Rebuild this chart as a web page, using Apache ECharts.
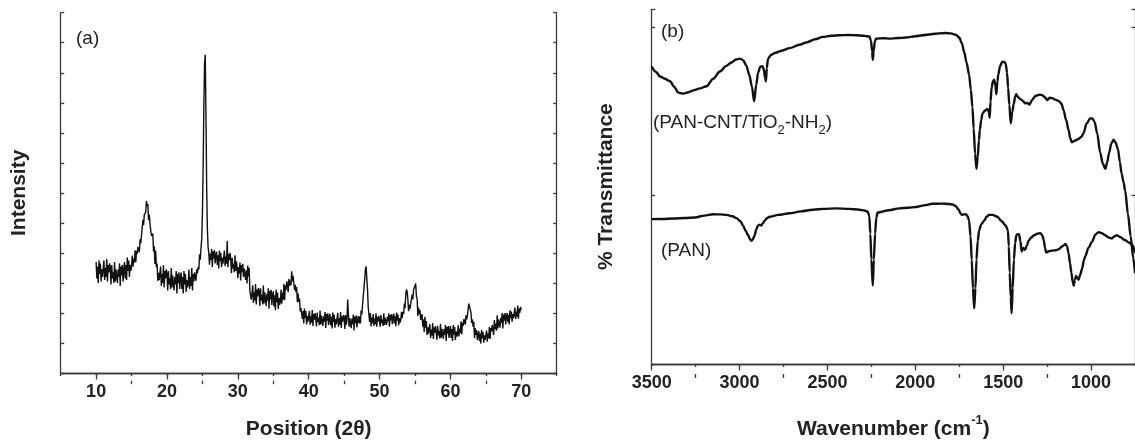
<!DOCTYPE html>
<html>
<head>
<meta charset="utf-8">
<script src="https://cdn.jsdelivr.net/npm/echarts@6/dist/echarts.min.js"></script>
<style>
  html, body { margin: 0; padding: 0; background: #fff; }
  #chart { width: 1135px; height: 445px; }
</style>
</head>
<body>
<div id="chart"></div>
<script>
// ---------- Panel (a): XRD pattern ----------
const xrdStart = 10;      // first 2θ sample
const xrdStep = 0.1;      // 2θ sampling step
const xrdIntensity = [
  3.70,3.15,3.55,3.00,3.75,3.30,3.65,3.05,3.45,3.20,   // 10
  3.25,3.75,3.10,3.50,3.20,3.80,3.05,3.60,3.35,3.65,   // 11
  3.50,2.95,3.60,3.15,3.35,3.00,3.70,3.05,3.45,3.20,   // 12
  3.00,3.45,3.20,3.65,2.90,3.55,3.25,3.60,3.05,3.40,   // 13
  3.70,3.15,3.60,3.10,3.85,3.40,3.75,3.20,3.60,3.40,   // 14
  3.56,3.91,3.54,3.81,3.68,4.09,3.69,4.07,3.97,4.20,   // 15
  4.20,4.02,4.45,4.32,4.58,4.55,5.10,4.92,5.28,5.30,   // 16
  5.35,5.73,5.55,5.63,5.10,5.28,4.97,5.00,4.57,4.60,   // 17
  4.64,4.05,4.22,3.63,4.08,3.52,3.65,3.07,3.34,3.09,   // 18
  3.05,3.55,2.90,3.30,3.00,3.60,2.85,3.40,3.15,3.45,   // 19
  3.30,2.75,3.40,2.95,3.15,2.80,3.50,2.85,3.25,3.00,   // 20
  2.75,3.20,2.95,3.40,2.65,3.30,3.00,3.35,2.80,3.15,   // 21
  3.35,2.80,3.20,2.65,3.40,2.95,3.30,2.70,3.10,2.85,   // 22
  2.95,3.45,2.80,3.20,2.90,3.50,2.75,3.30,3.05,3.35,   // 23
  3.30,3.07,3.45,3.32,3.53,3.45,3.95,3.77,4.18,4.45,   // 24
  5.30,6.80,8.80,10.30,10.60,8.60,6.20,4.80,4.20,4.00, // 25
  3.61,3.97,3.77,4.13,3.53,4.05,3.81,4.09,3.65,3.93,   // 26
  4.04,3.60,3.92,3.48,4.08,3.72,4.00,3.52,3.84,3.64,   // 27
  3.68,4.08,3.56,3.88,3.64,4.40,3.52,3.96,3.76,4.00,   // 28
  3.76,3.32,3.84,3.48,3.64,3.36,3.92,3.40,3.72,3.52,   // 29
  3.16,3.52,3.32,3.68,3.08,3.60,3.36,3.64,3.20,3.48,   // 30
  3.54,3.10,3.42,2.98,3.58,3.22,3.50,2.72,2.69,2.44,   // 31
  2.46,2.92,2.33,2.69,2.42,2.96,2.28,2.78,2.55,2.83,   // 32
  2.73,2.23,2.82,2.41,2.60,2.28,2.91,2.32,2.69,2.46,   // 33
  2.23,2.64,2.41,2.82,2.14,2.73,2.45,2.77,2.27,2.59,   // 34
  2.72,2.22,2.59,2.09,2.77,2.36,2.68,2.13,2.50,2.27,   // 35
  2.38,2.78,2.31,2.68,2.44,2.97,2.42,2.91,2.76,3.05,   // 36
  2.97,2.69,3.13,2.91,3.08,2.92,3.39,3.05,3.24,2.99,   // 37
  2.77,2.94,2.69,2.86,2.36,2.65,2.37,2.48,2.05,2.16,   // 38
  2.21,1.80,2.06,1.65,2.15,1.83,2.06,1.62,1.90,1.71,   // 39
  1.71,2.07,1.61,1.89,1.68,2.10,1.57,1.96,1.78,2.00,   // 40
  1.94,1.55,2.01,1.69,1.84,1.59,2.08,1.62,1.91,1.73,   // 41
  1.57,1.89,1.71,2.03,1.50,1.96,1.74,1.99,1.60,1.85,   // 42
  1.97,1.58,1.87,1.48,2.01,1.69,1.94,1.51,1.80,1.62,   // 43
  1.64,2.00,1.54,1.82,1.61,2.03,1.50,1.89,1.71,1.93,   // 44
  1.86,1.47,1.93,1.61,1.76,2.45,2.00,1.54,1.83,1.65,   // 45
  1.49,1.81,1.63,1.95,1.42,1.88,1.66,1.91,1.52,1.77,   // 46
  1.90,1.65,1.88,1.65,2.08,1.95,2.28,2.22,2.83,3.10,   // 47
  3.45,3.55,3.15,2.80,2.20,2.15,1.70,2.00,1.55,1.85,   // 48
  1.66,1.96,1.57,1.81,1.63,1.99,1.54,1.87,1.72,1.90,   // 49
  1.87,1.54,1.93,1.66,1.78,1.57,1.99,1.60,1.84,1.69,   // 50
  1.60,1.87,1.72,1.99,1.54,1.93,1.75,1.96,1.63,1.84,   // 51
  1.98,1.65,1.89,1.56,2.01,1.74,1.95,1.59,1.83,1.68,   // 52
  1.79,2.04,1.83,2.04,1.97,2.31,2.16,2.63,2.78,2.70,   // 53
  2.43,2.06,2.27,2.14,2.32,2.28,2.61,2.45,2.76,2.81,   // 54
  2.75,2.98,2.55,2.48,1.90,2.18,1.97,2.10,1.77,1.85,   // 55
  1.96,1.54,1.79,1.37,1.87,1.51,1.73,1.27,1.52,1.31,   // 56
  1.27,1.63,1.17,1.45,1.24,1.66,1.13,1.52,1.34,1.56,   // 57
  1.50,1.11,1.57,1.25,1.40,1.15,1.64,1.18,1.47,1.29,   // 58
  1.14,1.46,1.28,1.60,1.07,1.53,1.31,1.56,1.17,1.42,   // 59
  1.56,1.17,1.46,1.07,1.60,1.28,1.53,1.10,1.39,1.21,   // 60
  1.29,1.59,1.22,1.48,1.33,1.72,1.29,1.67,1.57,1.80,   // 61
  1.78,1.61,1.92,1.79,1.92,1.88,2.31,2.25,2.36,2.01,   // 62
  1.67,1.79,1.54,1.71,1.16,1.50,1.27,1.43,1.10,1.26,   // 63
  1.40,1.07,1.31,0.98,1.43,1.16,1.37,1.01,1.25,1.10,   // 64
  1.11,1.41,1.04,1.31,1.16,1.54,1.13,1.50,1.39,1.60,   // 65
  1.64,1.27,1.76,1.46,1.64,1.41,1.92,1.48,1.79,1.63,   // 66
  1.51,1.84,1.67,2.00,1.48,1.95,1.74,2.00,1.62,1.88,   // 67
  2.00,1.69,1.94,1.62,2.09,1.83,2.05,1.71,1.96,1.83,   // 68
  1.87,2.18,1.80,2.05,1.88,2.25,1.81,2.15,2.01,2.20,   // 69
  2.10                                                 // 70
];
const xrdMajorTicks = [10, 20, 30, 40, 50, 60, 70];
const xrdMinorTicks = [15, 25, 35, 45, 55, 65];

// ---------- Panel (b): FTIR spectra [wavenumber, transmittance offset units] ----------
const panCntTiO2Spectrum = [
  [3500,1.767],[3475,1.735],[3453,1.709],[3425,1.695],[3396,1.680],[3370,1.645],[3349,1.613],
  [3320,1.607],[3290,1.615],[3264,1.626],[3225,1.638],[3188,1.651],[3150,1.695],[3112,1.738],
  [3075,1.772],[3046,1.792],[3020,1.810],[2999,1.815],[2980,1.806],[2962,1.775],[2945,1.720],
  [2930,1.650],[2917,1.561],[2905,1.660],[2895,1.730],[2882,1.767],[2870,1.770],[2862,1.750],
  [2855,1.700],[2850,1.680],[2845,1.760],[2838,1.815],[2820,1.838],[2800,1.848],[2760,1.862],
  [2715,1.877],[2660,1.897],[2620,1.911],[2570,1.930],[2526,1.944],[2480,1.951],[2431,1.954],
  [2380,1.955],[2337,1.954],[2290,1.950],[2261,1.946],[2252,1.920],[2246,1.860],[2242,1.808],
  [2237,1.860],[2230,1.920],[2223,1.934],[2180,1.936],[2148,1.934],[2100,1.937],[2053,1.940],
  [2000,1.948],[1959,1.954],[1910,1.960],[1864,1.965],[1830,1.967],[1798,1.965],[1770,1.957],
  [1750,1.940],[1735,1.905],[1722,1.854],[1708,1.790],[1694,1.719],[1684,1.630],[1675,1.526],
  [1668,1.400],[1660,1.250],[1652,1.160],[1645,1.230],[1638,1.330],[1633,1.391],[1625,1.450],
  [1618,1.487],[1605,1.505],[1590,1.516],[1582,1.500],[1577,1.464],[1572,1.560],[1566,1.642],
  [1558,1.680],[1552,1.690],[1545,1.660],[1539,1.603],[1533,1.680],[1528,1.719],[1518,1.770],
  [1505,1.796],[1494,1.795],[1486,1.786],[1478,1.730],[1472,1.642],[1465,1.540],[1457,1.430],
  [1448,1.500],[1440,1.545],[1432,1.590],[1426,1.603],[1415,1.585],[1402,1.574],[1390,1.565],
  [1374,1.549],[1362,1.552],[1351,1.541],[1335,1.570],[1317,1.593],[1295,1.600],[1279,1.599],
  [1262,1.585],[1250,1.568],[1236,1.582],[1222,1.580],[1200,1.570],[1181,1.561],[1168,1.545],
  [1156,1.507],[1142,1.450],[1128,1.391],[1118,1.340],[1109,1.318],[1090,1.328],[1071,1.338],
  [1055,1.350],[1043,1.372],[1025,1.430],[1005,1.459],[993,1.460],[980,1.439],[965,1.370],
  [948,1.256],[933,1.190],[919,1.160],[908,1.200],[897,1.256],[885,1.310],[872,1.333],
  [860,1.315],[847,1.276],[836,1.200],[826,1.130],[815,1.080],[806,1.030],[790,0.890],
  [775,0.760],[760,0.630],[750,0.540]
];
const panSpectrum = [
  [3500,0.861],[3440,0.862],[3377,0.865],[3310,0.868],[3254,0.871],[3200,0.882],[3150,0.890],
  [3110,0.889],[3074,0.886],[3040,0.878],[3018,0.867],[2995,0.848],[2980,0.823],[2965,0.790],
  [2951,0.765],[2940,0.740],[2933,0.732],[2924,0.742],[2914,0.765],[2905,0.800],[2895,0.823],
  [2885,0.828],[2876,0.823],[2866,0.838],[2857,0.852],[2845,0.866],[2829,0.875],[2780,0.886],
  [2715,0.896],[2650,0.907],[2583,0.917],[2520,0.922],[2450,0.925],[2380,0.922],[2318,0.917],
  [2290,0.912],[2271,0.906],[2262,0.880],[2256,0.775],[2250,0.620],[2242,0.466],[2236,0.620],
  [2229,0.775],[2222,0.870],[2214,0.900],[2150,0.914],[2091,0.925],[2040,0.929],[1996,0.933],
  [1950,0.943],[1902,0.952],[1850,0.953],[1810,0.951],[1788,0.948],[1770,0.938],[1754,0.919],
  [1743,0.895],[1735,0.886],[1725,0.889],[1712,0.890],[1702,0.878],[1694,0.852],[1686,0.760],
  [1679,0.620],[1672,0.450],[1665,0.331],[1658,0.450],[1652,0.620],[1645,0.730],[1637,0.794],
  [1625,0.830],[1608,0.852],[1595,0.875],[1580,0.886],[1560,0.886],[1533,0.875],[1510,0.850],
  [1486,0.823],[1473,0.794],[1468,0.700],[1463,0.543],[1457,0.400],[1452,0.302],[1446,0.450],
  [1439,0.620],[1432,0.720],[1425,0.765],[1418,0.772],[1410,0.771],[1402,0.730],[1395,0.669],
  [1386,0.690],[1376,0.678],[1365,0.705],[1354,0.736],[1340,0.752],[1325,0.765],[1305,0.775],
  [1288,0.778],[1278,0.765],[1269,0.736],[1262,0.690],[1256,0.663],[1240,0.670],[1222,0.674],
  [1200,0.676],[1184,0.682],[1165,0.698],[1146,0.713],[1137,0.700],[1128,0.659],[1120,0.600],
  [1112,0.543],[1105,0.490],[1099,0.466],[1092,0.500],[1086,0.524],[1078,0.510],[1071,0.501],
  [1062,0.530],[1052,0.563],[1040,0.620],[1033,0.640],[1015,0.690],[995,0.726],[975,0.770],
  [958,0.784],[940,0.778],[920,0.765],[900,0.752],[882,0.746],[868,0.758],[854,0.765],
  [835,0.755],[806,0.736],[785,0.722],[765,0.707],[750,0.660]
];
const ftirMajorTicks = [1000, 1500, 2000, 2500, 3000, 3500];
const ftirMinorTicks = [1250, 1750, 2250, 2750, 3250];

// ---------- chart ----------
const FONT = '"Liberation Sans", Arial, Helvetica, sans-serif';
const AXIS_COLOR = '#3a3a3a';
const TEXT_COLOR = '#222';

const xrdData = xrdIntensity.map((v, i) => [+(xrdStart + i * xrdStep).toFixed(2), v]);

const gridA = { left: 60.7, top: 12.7, width: 496, height: 368 };
const gridB = { left: 651.7, top: 9.3, width: 484.7, height: 364.7 };

const lineStyleAxis = { color: AXIS_COLOR, width: 1.3 };
const tickLabelStyle = { fontSize: 18, fontWeight: 'bold', color: TEXT_COLOR, fontFamily: FONT, margin: 10,
  formatter: (v) => String(v) };
const nameStyle = { fontSize: 21, fontWeight: 'bold', color: TEXT_COLOR, fontFamily: FONT };

const chart = echarts.init(document.getElementById('chart'), null, { renderer: 'canvas' });

const option = {
  animation: false,
  backgroundColor: '#ffffff',
  grid: [
    Object.assign({}, gridA),
    Object.assign({}, gridB),
    Object.assign({}, gridA),
    Object.assign({}, gridB)
  ],
  xAxis: [
    { // 0: panel a bottom
      gridIndex: 0, type: 'value', min: 5, max: 75, interval: 5, position: 'bottom',
      axisLine: { show: true, lineStyle: lineStyleAxis },
      axisTick: { show: true, inside: false, length: 6.5, customValues: xrdMajorTicks, lineStyle: lineStyleAxis },
      axisLabel: Object.assign({ customValues: xrdMajorTicks }, tickLabelStyle),
      splitLine: { show: false },
      name: 'Position (2θ)', nameLocation: 'middle', nameGap: 46, nameTextStyle: nameStyle
    },
    { // 1: panel a top
      gridIndex: 0, type: 'value', min: 5, max: 75, interval: 5, position: 'top',
      axisLine: { show: true, lineStyle: lineStyleAxis },
      axisTick: { show: true, inside: true, length: 3, lineStyle: lineStyleAxis },
      axisLabel: { show: false }, splitLine: { show: false }
    },
    { // 2: panel a bottom minor ticks
      gridIndex: 2, type: 'value', min: 5, max: 75, interval: 5, position: 'bottom',
      axisLine: { show: false },
      axisTick: { show: true, inside: false, length: 3.5, customValues: xrdMinorTicks, lineStyle: lineStyleAxis },
      axisLabel: { show: false }, splitLine: { show: false }
    },
    { // 3: panel b bottom
      gridIndex: 1, type: 'value', min: 750, max: 3500, interval: 250, inverse: true, position: 'bottom',
      axisLine: { show: true, lineStyle: lineStyleAxis },
      axisTick: { show: true, inside: false, length: 6.5, customValues: ftirMajorTicks, lineStyle: lineStyleAxis },
      axisLabel: Object.assign({ customValues: ftirMajorTicks }, tickLabelStyle),
      splitLine: { show: false },
      name: '{t|Wavenumber (cm}{p|-1}{t|)}', nameLocation: 'middle', nameGap: 50,
      nameTextStyle: Object.assign({}, nameStyle, {
        rich: {
          t: { fontSize: 21, fontWeight: 'bold', color: TEXT_COLOR, fontFamily: FONT, lineHeight: 26, verticalAlign: 'bottom' },
          p: { fontSize: 13, fontWeight: 'bold', color: TEXT_COLOR, fontFamily: FONT, lineHeight: 14, verticalAlign: 'top' }
        }
      })
    },
    { // 4: panel b top
      gridIndex: 1, type: 'value', min: 750, max: 3500, interval: 250, inverse: true, position: 'top',
      axisLine: { show: true, lineStyle: lineStyleAxis },
      axisTick: { show: true, inside: true, length: 3, lineStyle: lineStyleAxis },
      axisLabel: { show: false }, splitLine: { show: false }
    },
    { // 5: panel b bottom minor ticks
      gridIndex: 3, type: 'value', min: 750, max: 3500, interval: 250, inverse: true, position: 'bottom',
      axisLine: { show: false },
      axisTick: { show: true, inside: false, length: 4, customValues: ftirMinorTicks, lineStyle: lineStyleAxis },
      axisLabel: { show: false }, splitLine: { show: false }
    }
  ],
  yAxis: [
    { // 0: panel a left
      gridIndex: 0, type: 'value', min: 0, max: 12, interval: 1, position: 'left',
      axisLine: { show: true, lineStyle: lineStyleAxis },
      axisTick: { show: true, inside: true, length: 3.5, lineStyle: lineStyleAxis },
      axisLabel: { show: false }, splitLine: { show: false },
      name: 'Intensity', nameLocation: 'middle', nameGap: 31, nameTextStyle: nameStyle
    },
    { // 1: panel a right
      gridIndex: 0, type: 'value', min: 0, max: 12, interval: 1, position: 'right',
      axisLine: { show: true, lineStyle: lineStyleAxis },
      axisTick: { show: true, inside: true, length: 3.5, lineStyle: lineStyleAxis },
      axisLabel: { show: false }, splitLine: { show: false }
    },
    { gridIndex: 2, type: 'value', min: 0, max: 12, show: false },
    { // 3: panel b left
      gridIndex: 1, type: 'value', min: 0, max: 2.108, interval: 1, position: 'left',
      axisLine: { show: true, lineStyle: lineStyleAxis },
      axisTick: { show: true, inside: true, length: 3.5, lineStyle: lineStyleAxis },
      axisLabel: { show: false }, splitLine: { show: false },
      name: '% Transmittance', nameLocation: 'middle', nameGap: 35, nameTextStyle: nameStyle
    },
    { // 4: panel b right
      gridIndex: 1, type: 'value', min: 0, max: 2.108, interval: 1, position: 'right',
      axisLine: { show: true, lineStyle: lineStyleAxis },
      axisTick: { show: true, inside: true, length: 3.5, lineStyle: lineStyleAxis },
      axisLabel: { show: false }, splitLine: { show: false }
    },
    { gridIndex: 3, type: 'value', min: 0, max: 2.108, show: false }
  ],
  series: [
    {
      name: 'XRD', type: 'line', xAxisIndex: 0, yAxisIndex: 0, data: xrdData,
      showSymbol: false, symbol: 'none', smooth: false,
      lineStyle: { color: '#111', width: 1.4 }
    },
    {
      name: 'PAN-CNT/TiO2-NH2', type: 'line', xAxisIndex: 3, yAxisIndex: 3, data: panCntTiO2Spectrum,
      showSymbol: false, symbol: 'none', smooth: 0.3, smoothMonotone: 'x',
      lineStyle: { color: '#111', width: 2.4 }
    },
    {
      name: 'PAN', type: 'line', xAxisIndex: 3, yAxisIndex: 3, data: panSpectrum,
      showSymbol: false, symbol: 'none', smooth: 0.3, smoothMonotone: 'x',
      lineStyle: { color: '#111', width: 2.4 }
    }
  ],
  graphic: [
    { type: 'text', left: 76, top: 29, silent: true,
      style: { text: '(a)', font: '19px ' + FONT, fill: TEXT_COLOR } },
    { type: 'text', left: 661, top: 22, silent: true,
      style: { text: '(b)', font: '19px ' + FONT, fill: TEXT_COLOR } },
    { type: 'text', left: 653, top: 113, silent: true,
      style: {
        text: '{n|(PAN-CNT/TiO}{s|2}{n|-NH}{s|2}{n|)}',
        rich: {
          n: { fontSize: 19, fontFamily: FONT, fill: TEXT_COLOR, lineHeight: 24, verticalAlign: 'top' },
          s: { fontSize: 13, fontFamily: FONT, fill: TEXT_COLOR, lineHeight: 14, verticalAlign: 'bottom' }
        }
      } },
    { type: 'text', left: 661, top: 241, silent: true,
      style: { text: '(PAN)', font: '19px ' + FONT, fill: TEXT_COLOR } }
  ]
};

chart.setOption(option);
</script>
</body>
</html>
